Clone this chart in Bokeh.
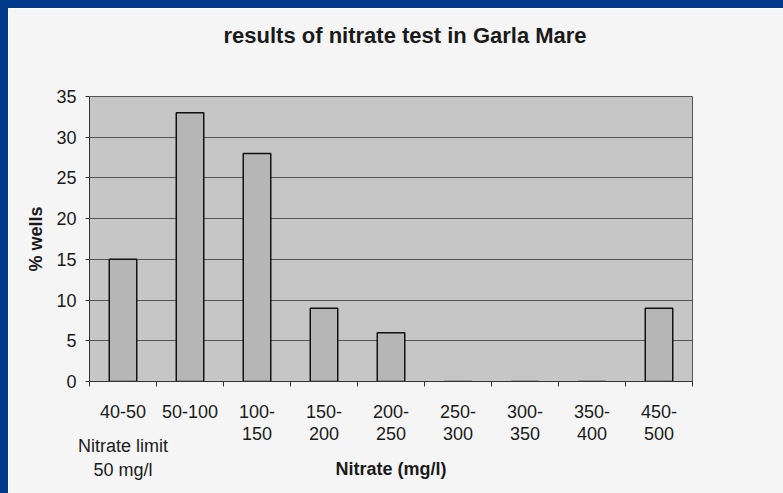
import json
from bokeh.plotting import figure
from bokeh.layouts import column, row
from bokeh.models import (FactorRange, LinearAxis, CategoricalAxis, FixedTicker,
                          SingleIntervalTicker, ColumnDataSource, Div, Title,
                          CustomJSTickFormatter)
from bokeh.embed import file_html
from bokeh.resources import INLINE

# ---- data ----
categories = ["40-50", "50-100", "100-150", "150-200", "200-250",
              "250-300", "300-350", "350-400", "450-500"]
label_line1 = ["40-50", "50-100", "100-", "150-", "200-", "250-", "300-", "350-", "450-"]
label_line2 = ["", "", "150", "200", "250", "300", "350", "400", "500"]
note_line1 = ["Nitrate limit", "", "", "", "", "", "", "", ""]
note_line2 = ["50 mg/l", "", "", "", "", "", "", "", ""]
pct_wells = [15, 33, 28, 9, 6, 0, 0, 0, 9]
boundaries = list(range(len(categories) + 1))
title_text = "results of nitrate test in Garla Mare"

FONT = "Liberation Sans"
TXT = "#1a1a1a"
BLUE = "#003a88"
FS = "18px"

src = ColumnDataSource(dict(cat=categories, val=pct_wells))

p = figure(x_range=FactorRange(*categories, range_padding=0), y_range=(0, 35),
           width=775, height=485, output_backend="svg", toolbar_location=None,
           x_axis_location=None,
           min_border_left=81, min_border_right=91, min_border_top=88, min_border_bottom=112)
p.title_location = None

p.background_fill_color = "#c6c6c6"
p.border_fill_color = "#f5f5f5"
p.outline_line_color = "#555555"
p.outline_line_width = 1

# top panel: spacer (closest to the frame), then the title
p.add_layout(Title(text=" ", text_font=FONT, text_font_size="10px", standoff=31), "above")
p.add_layout(Title(text=title_text, text_font=FONT, text_font_style="bold",
                   text_font_size="22px", text_color=TXT, align="left",
                   offset=134, standoff=10), "above")

p.vbar(x="cat", top="val", bottom=0, width=0.41, source=src,
       fill_color="#b6b6b6", line_color="#111111", line_width=1.5)

# y axis
ya = p.yaxis[0]
ya.ticker = SingleIntervalTicker(interval=5)
ya.axis_label = "% wells"
ya.axis_label_text_font = FONT
ya.axis_label_text_font_style = "bold"
ya.axis_label_text_font_size = FS
ya.axis_label_text_color = TXT
ya.axis_label_standoff = 7
ya.major_label_text_font = FONT
ya.major_label_text_font_size = FS
ya.major_label_text_color = TXT
ya.major_label_standoff = 9
ya.major_tick_out = 4
ya.major_tick_in = 0
ya.minor_tick_line_color = None
ya.axis_line_color = "#333333"
ya.major_tick_line_color = "#333333"

p.ygrid.grid_line_color = "#555555"
p.ygrid.grid_line_width = 1
p.xgrid.grid_line_color = None

# x tick marks at category boundaries
tick_axis = LinearAxis(ticker=FixedTicker(ticks=boundaries),
                       major_label_overrides={b: "" for b in boundaries},
                       major_label_standoff=0,
                       major_tick_out=5, major_tick_in=0,
                       minor_tick_line_color=None,
                       axis_line_color="#333333", major_tick_line_color="#333333")
p.add_layout(tick_axis, "below")


def line_formatter(lines):
    mapping = json.dumps(dict(zip(categories, lines)))
    return CustomJSTickFormatter(code=f"const m = {mapping}; return (tick in m) ? m[tick] : tick;")


common = dict(major_tick_line_color=None, axis_line_color=None,
              major_label_text_font=FONT, major_label_text_font_size=FS,
              major_label_text_color=TXT)
axis_label_style = dict(axis_label_text_font=FONT, axis_label_text_font_style="bold",
                        axis_label_text_font_size=FS, axis_label_text_color=TXT)

p.add_layout(CategoricalAxis(formatter=line_formatter(label_line1),
                             major_label_standoff=12, **common), "below")
p.add_layout(CategoricalAxis(formatter=line_formatter(label_line2),
                             major_label_standoff=0, **common), "below")
p.add_layout(CategoricalAxis(formatter=line_formatter(note_line1),
                             major_label_standoff=-13,
                             axis_label="Nitrate (mg/l)", axis_label_standoff=0,
                             **axis_label_style, **common), "below")
p.add_layout(CategoricalAxis(formatter=line_formatter(note_line2),
                             major_label_standoff=-28, **common), "below")

# slide border (blue strips at top and left)
top_strip = Div(text="", width=783, height=8, margin=0,
                styles={"background-color": BLUE})
left_strip = Div(text="", width=8, height=485, margin=0,
                 styles={"background-color": BLUE})
page = column(top_strip, row(left_strip, p, spacing=0), spacing=0)

open("out.html", "w").write(file_html(page, INLINE))
